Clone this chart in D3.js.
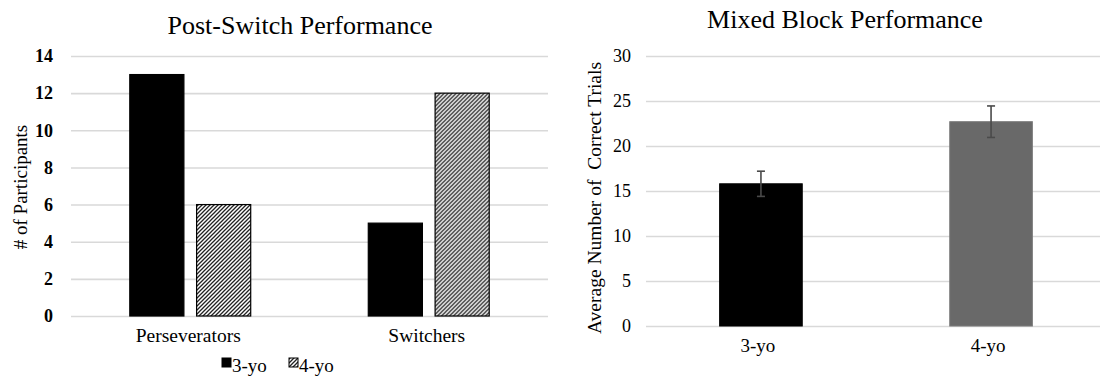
<!DOCTYPE html>
<html>
<head>
<meta charset="utf-8">
<script src="https://cdn.jsdelivr.net/npm/d3@7"></script>
<style>
  html, body { margin: 0; padding: 0; background: #fff; }
  svg { display: block; font-family: "Liberation Serif", "Times New Roman", serif; }
</style>
</head>
<body>
<svg id="chart" width="1100" height="378"></svg>
<script>
// Post-Switch Performance: participant counts by group and age
const switchCategories = ["Perseverators", "Switchers"];
const ageGroups = ["3-yo", "4-yo"];
const count3yo = [13, 5];
const count4yo = [6, 12];
const switchTicks = [0, 2, 4, 6, 8, 10, 12, 14];

// Mixed Block Performance: mean correct trials with error bars
const mixedCategories = ["3-yo", "4-yo"];
const mixedMeans = [15.8, 22.7];
const mixedErrors = [1.4, 1.75];
const mixedTicks = [0, 5, 10, 15, 20, 25, 30];

const svg = d3.select("#chart");
const gridColor = "#d9d9d9";

// hatch pattern for the 4-yo bars
const defs = svg.append("defs");
const pat = defs.append("pattern")
  .attr("id", "hatch")
  .attr("patternUnits", "userSpaceOnUse")
  .attr("width", 4).attr("height", 4);
pat.append("rect").attr("width", 4).attr("height", 4).attr("fill", "#fff");
pat.append("path")
  .attr("d", "M-1,1 l2,-2 M0,4 l4,-4 M3,5 l2,-2")
  .attr("stroke", "#222").attr("stroke-width", 1.3);

// ---------- left panel ----------
const L = { x0: 71, x1: 548, y0: 316, y1: 56 };
const yL = d3.scaleLinear().domain([0, 14]).range([L.y0, L.y1]);
const xL = d3.scaleBand().domain(switchCategories).range([L.x0, L.x1]).paddingInner(0).paddingOuter(0);
const xLInner = d3.scaleBand().domain(ageGroups).range([0, xL.bandwidth()])
  .paddingInner(0.19).paddingOuter(0.88);

const axL = svg.append("g").attr("transform", `translate(${L.x0},0)`)
  .call(d3.axisLeft(yL).tickValues(switchTicks).tickSizeInner(-(L.x1 - L.x0)).tickSizeOuter(0).tickPadding(18));
axL.select(".domain").remove();
axL.selectAll("line").attr("stroke", gridColor).attr("stroke-width", 1.6);
axL.selectAll("text").attr("font-size", 18).attr("font-weight", "bold")
  .attr("fill", "#000").attr("font-family", "Liberation Serif");

const leftData = switchCategories.map((c, i) => ({ cat: c, vals: [count3yo[i], count4yo[i]] }));
const groups = svg.append("g").selectAll("g").data(leftData).join("g")
  .attr("transform", d => `translate(${xL(d.cat)},0)`);
groups.selectAll("rect")
  .data(d => d.vals.map((v, j) => ({ age: ageGroups[j], v })))
  .join("rect")
  .attr("x", d => xLInner(d.age))
  .attr("width", xLInner.bandwidth())
  .attr("y", d => yL(d.v))
  .attr("height", d => yL(0) - yL(d.v))
  .attr("fill", d => d.age === "3-yo" ? "#000" : "url(#hatch)")
  .attr("stroke", "#000")
  .attr("stroke-width", 1.2);

svg.append("g").selectAll("text").data(switchCategories).join("text")
  .attr("x", d => xL(d) + xL.bandwidth() / 2 - 2)
  .attr("y", 342)
  .attr("text-anchor", "middle")
  .attr("font-size", 19.5)
  .text(d => d);

svg.append("text")
  .attr("x", 300).attr("y", 34)
  .attr("text-anchor", "middle")
  .attr("font-size", 26)
  .text("Post-Switch Performance");

svg.append("text")
  .attr("transform", "translate(27,187) rotate(-90)")
  .attr("text-anchor", "middle")
  .attr("font-size", 19)
  .text("# of Participants");

// legend
const legend = svg.append("g");
const legendItems = [
  { label: "3-yo", fill: "#000", sx: 222 },
  { label: "4-yo", fill: "url(#hatch)", sx: 289 }
];
legend.selectAll("rect").data(legendItems).join("rect")
  .attr("x", d => d.sx).attr("y", 358)
  .attr("width", 9).attr("height", 9)
  .attr("fill", d => d.fill)
  .attr("stroke", "#000").attr("stroke-width", 1);
legend.selectAll("text").data(legendItems).join("text")
  .attr("x", d => d.sx + 10).attr("y", 372)
  .attr("font-size", 19)
  .text(d => d.label);

// ---------- right panel ----------
const R = { x0: 646, x1: 1106, y0: 326, y1: 56 };
const yR = d3.scaleLinear().domain([0, 30]).range([R.y0, R.y1]);
const xR = d3.scaleBand().domain(mixedCategories).range([R.x0, R.x1])
  .paddingInner(0.641).paddingOuter(0.32);

const axR = svg.append("g").attr("transform", `translate(${R.x0},0)`)
  .call(d3.axisLeft(yR).tickValues(mixedTicks).tickSizeInner(-(1100 - R.x0)).tickSizeOuter(0).tickPadding(15));
axR.select(".domain").remove();
axR.selectAll("line").attr("stroke", gridColor).attr("stroke-width", 1.6);
axR.selectAll("text").attr("font-size", 18).attr("fill", "#000")
  .attr("font-family", "Liberation Serif");

const rightData = mixedCategories.map((c, i) => ({ cat: c, mean: mixedMeans[i], err: mixedErrors[i] }));
svg.append("g").selectAll("rect").data(rightData).join("rect")
  .attr("x", d => xR(d.cat))
  .attr("width", xR.bandwidth())
  .attr("y", d => yR(d.mean))
  .attr("height", d => yR(0) - yR(d.mean))
  .attr("fill", d => d.cat === "3-yo" ? "#000" : "#696969")
  .attr("stroke", d => d.cat === "3-yo" ? "#000" : "#7a7a7a")
  .attr("stroke-width", 1);

const eb = svg.append("g").selectAll("g").data(rightData).join("g")
  .attr("stroke", "#4a4a4a").attr("stroke-width", 1.6);
eb.append("line")
  .attr("x1", d => xR(d.cat) + xR.bandwidth() / 2)
  .attr("x2", d => xR(d.cat) + xR.bandwidth() / 2)
  .attr("y1", d => yR(d.mean + d.err))
  .attr("y2", d => yR(d.mean - d.err));
eb.selectAll("line.cap").data(d => [d.mean + d.err, d.mean - d.err].map(v => ({ d, v })))
  .join("line").attr("class", "cap")
  .attr("x1", o => xR(o.d.cat) + xR.bandwidth() / 2 - 4)
  .attr("x2", o => xR(o.d.cat) + xR.bandwidth() / 2 + 4)
  .attr("y1", o => yR(o.v))
  .attr("y2", o => yR(o.v));

svg.append("g").selectAll("text").data(mixedCategories).join("text")
  .attr("x", d => xR(d) + xR.bandwidth() / 2 - 3)
  .attr("y", 352)
  .attr("text-anchor", "middle")
  .attr("font-size", 19)
  .text(d => d);

svg.append("text")
  .attr("x", 845).attr("y", 28)
  .attr("text-anchor", "middle")
  .attr("font-size", 26)
  .text("Mixed Block Performance");

svg.append("text")
  .attr("transform", "translate(601,198) rotate(-90)")
  .attr("text-anchor", "middle")
  .attr("font-size", 19.5)
  .attr("xml:space", "preserve")
  .style("white-space", "pre")
  .text("Average Number of  Correct Trials");
</script>
</body>
</html>
